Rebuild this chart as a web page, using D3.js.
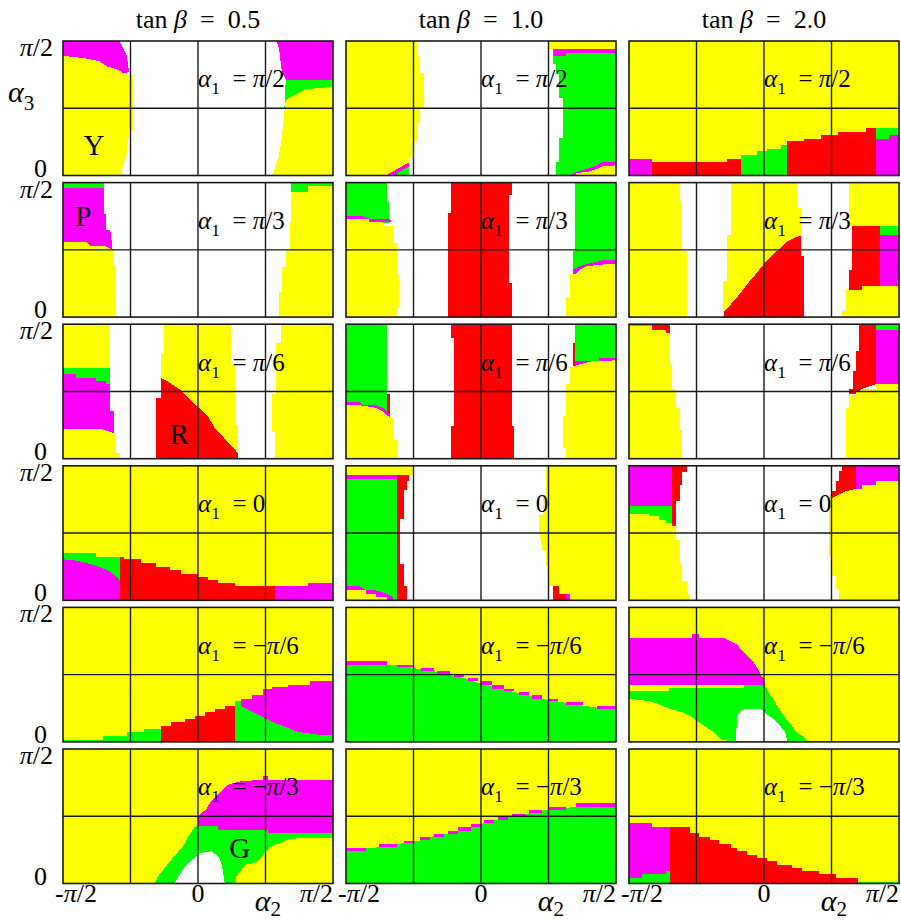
<!DOCTYPE html>
<html>
<head>
<meta charset="utf-8">
<script src="https://cdnjs.cloudflare.com/ajax/libs/d3/7.8.5/d3.min.js"></script>
<style>
  body { margin: 0; background: #fff; }
  svg text { font-family: "Liberation Serif", "DejaVu Serif", serif; fill: #000; }
</style>
</head>
<body>
<svg id="chart" width="901" height="921"></svg>
<script>
// colour codes used by the region lists
const COLORS = { Y: "#ffff00", W: "#ffffff", G: "#00ff00", M: "#ff00ff", R: "#ff0000" };

// column / row labels
const tanBetaLabels = ["0.5", "1.0", "2.0"];
const alpha1Labels  = ["π/2", "π/3", "π/6", "0", "−π/6", "−π/3"];
const xTickVals = [-1, 0, 1];          // α2 in units of π/2
const xTickText = ["-π/2", "0", "π/2"];
const gridU = [-0.5, 0, 0.5];
const gridV = [0.5];                   // α3 in units of π/2

// background colour of every panel, rows = α1, cols = tanβ
const panelBg = [
  ["W", "W", "Y"],
  ["W", "W", "Y"],
  ["W", "W", "W"],
  ["Y", "W", "W"],
  ["Y", "Y", "Y"],
  ["Y", "Y", "Y"]
];

// regions: [colour, polygon of [α2, α3]] or [colour, [u0, u1, v0, v1]] strips
// ---- α1 = π/2
const t05_r1 = [
  ["Y", [[-1,0],[-1,0.89],[-0.83,0.87],[-0.73,0.85],[-0.67,0.81],[-0.6,0.79],[-0.55,0.76],[-0.48,0.74],[-0.48,0.33],[-0.51,0.33],[-0.53,0.15],[-0.56,0.06],[-0.56,0]]],
  ["M", [[-1,1],[-0.58,1],[-0.56,0.96],[-0.53,0.9],[-0.51,0.77],[-0.55,0.76],[-0.6,0.79],[-0.67,0.81],[-0.73,0.85],[-0.83,0.87],[-1,0.89]]],
  ["G", [[0.64,0.5],[0.65,0.71],[1,0.71],[1,0.5]]],
  ["Y", [[0.55,0],[0.57,0.055],[0.6,0.15],[0.62,0.28],[0.64,0.47],[0.65,0.56],[0.68,0.58],[0.72,0.6],[0.79,0.64],[1,0.66],[1,0]]],
  ["M", [[0.58,1],[1,1],[1,0.71],[0.65,0.71],[0.62,0.78],[0.6,0.95]]]
];
const t10_r1 = [
  ["Y", [[-1,0],[-1,1],[-0.474,1],[-0.474,0.888],[-0.449,0.888],[-0.449,0.764],[-0.425,0.764],[-0.425,0.502],[-0.449,0.502],[-0.449,0.39],[-0.474,0.39],[-0.474,0.254],[-0.5,0.254],[-0.5,0.129],[-0.531,0.129],[-0.531,0]]],
  ["M", [[-0.704,0],[-0.531,0.1],[-0.531,0.07],[-0.65,0]]],
  ["G", [[-0.65,0],[-0.531,0.07],[-0.531,0]]],
  ["Y", [[0.499,1],[1,1],[1,0.938],[0.499,0.938]]],
  ["G", [[0.531,0.913],[1,0.913],[1,0],[0.556,0],[0.556,0.104],[0.58,0.104],[0.58,0.279],[0.605,0.279],[0.605,0.577],[0.58,0.577],[0.58,0.751],[0.556,0.751],[0.556,0.826],[0.531,0.826]]],
  ["M", [[0.531,0.938],[1,0.938],[1,0.913],[0.63,0.913],[0.63,0.888],[0.531,0.888]]],
  ["M", [[0.654,0],[0.704,0.025],[0.785,0.05],[0.859,0.075],[0.901,0.1],[1,0.1],[1,0]]],
  ["Y", [[0.704,0],[0.704,0.02],[0.785,0.025],[0.859,0.05],[0.901,0.07],[1,0.075],[1,0]]]
];
const t20_r1 = [
  ["M", [[-1,0],[-1,0.124],[-0.827,0.124],[-0.827,0]]],
  ["R", [[-0.827,0],[-0.827,0.104],[-0.277,0.104],[-0.277,0.124],[-0.173,0.124],[-0.173,0]]],
  ["G", [[-0.173,0],[-0.173,0.149],[-0.049,0.149],[-0.049,0.179],[0.025,0.179],[0.025,0.199],[0.123,0.199],[0.123,0.229],[0.173,0.229],[0.173,0]]],
  ["R", [[0.173,0],[0.173,0.254],[0.296,0.254],[0.296,0.274],[0.42,0.274],[0.42,0.303],[0.548,0.303],[0.548,0.323],[0.753,0.323],[0.753,0.353],[0.827,0.353],[0.827,0]]],
  ["G", [[0.827,0.274],[0.827,0.353],[1,0.353],[1,0.274]]],
  ["M", [[0.827,0],[0.827,0.274],[0.926,0.274],[0.926,0.303],[1,0.303],[1,0]]]
];
// ---- α1 = π/3
const t05_r2 = [
  ["G", [[-1,1],[-0.7,1],[-0.7,0.95],[-1,0.95]]],
  ["M", [[-1,0.96],[-0.7,0.96],[-0.7,0.77],[-0.68,0.77],[-0.68,0.65],[-0.65,0.65],[-0.63,0.48],[-1,0.48]]],
  ["Y", [[-1,0],[-1,0.56],[-0.83,0.56],[-0.8,0.53],[-0.69,0.53],[-0.63,0.5],[-0.63,0.39],[-0.605,0.39],[-0.605,0]]],
  ["Y", [[0.6,0],[0.6,0.19],[0.62,0.19],[0.62,0.37],[0.65,0.37],[0.65,0.49],[0.68,0.49],[0.68,0.71],[0.69,0.71],[0.69,1],[1,1],[1,0]]],
  ["G", [[0.69,1],[1,1],[1,0.978],[0.815,0.978],[0.815,0.93],[0.69,0.93]]]
];
const t10_r2 = [
  ["G", [[-1,1],[-0.696,1],[-0.696,0.859],[-0.679,0.859],[-0.679,0.7],[-1,0.7]]],
  ["M", [[-1,0.748],[-0.877,0.748],[-0.827,0.731],[-0.679,0.731],[-0.66,0.706],[-1,0.706]]],
  ["Y", [[-1,0],[-1,0.731],[-0.827,0.731],[-0.827,0.706],[-0.728,0.706],[-0.728,0.681],[-0.654,0.681],[-0.654,0.551],[-0.622,0.551],[-0.622,0.316],[-0.605,0.316],[-0.605,0.069],[-0.622,0.069],[-0.622,0]]],
  ["R", [[-0.222,1],[0.227,1],[0.227,0.909],[0.205,0.909],[0.205,0.254],[0.227,0.254],[0.227,0],[-0.247,0],[-0.247,0.773],[-0.222,0.773]]],
  ["G", [[0.699,1],[1,1],[1,0.4],[0.679,0.35],[0.679,0.489],[0.699,0.489]]],
  ["M", [[0.679,0.3],[0.679,0.353],[0.728,0.378],[0.785,0.395],[0.877,0.415],[0.901,0.427],[1,0.427],[1,0.3]]],
  ["Y", [[0.63,0],[0.63,0.143],[0.659,0.143],[0.659,0.321],[0.704,0.321],[0.728,0.353],[0.785,0.378],[0.877,0.39],[1,0.395],[1,0]]]
];
const t20_r2 = [
  ["W", [[-0.622,1],[-0.247,1],[-0.247,0.612],[-0.277,0.612],[-0.277,0.267],[-0.301,0.267],[-0.301,0],[-0.573,0],[-0.573,0.489],[-0.605,0.489],[-0.605,0.859],[-0.622,0.859]]],
  ["W", [[0.247,1],[0.63,1],[0.63,0.674],[0.654,0.674],[0.654,0.353],[0.63,0.353],[0.63,0.205],[0.605,0.205],[0.605,0.044],[0.58,0.044],[0.58,0],[0.296,0],[0.296,0.415],[0.284,0.415],[0.284,0.612],[0.272,0.612],[0.272,0.81],[0.247,0.81]]],
  ["R", [[-0.301,0],[-0.296,0.044],[-0.247,0.094],[-0.173,0.18],[-0.123,0.247],[-0.074,0.304],[-0.025,0.365],[0.025,0.427],[0.079,0.477],[0.123,0.514],[0.173,0.563],[0.222,0.588],[0.272,0.605],[0.272,0.452],[0.296,0.452],[0.296,0]]],
  ["R", [[0.654,0.674],[0.859,0.674],[0.859,0.23],[0.728,0.23],[0.728,0.205],[0.63,0.205],[0.63,0.353],[0.654,0.353]]],
  ["G", [[0.859,0.674],[1,0.674],[1,0.612],[0.859,0.612]]],
  ["M", [[0.859,0.612],[1,0.612],[1,0.23],[0.859,0.23]]]
];
// ---- α1 = π/6
const t05_r3 = [
  ["Y", [[-1,1],[-0.654,1],[-0.654,0.677],[-1,0.677]]],
  ["G", [[-1,0.677],[-0.654,0.677],[-0.654,0.55],[-1,0.55]]],
  ["M", [[-1,0.627],[-0.901,0.627],[-0.901,0.602],[-0.753,0.602],[-0.753,0.577],[-0.679,0.577],[-0.679,0.552],[-0.654,0.552],[-0.654,0.353],[-0.625,0.353],[-0.625,0.192],[-1,0.192]]],
  ["Y", [[-1,0],[-1,0.224],[-0.73,0.224],[-0.625,0.192],[-0.605,0.192],[-0.605,0.042],[-0.58,0.042],[-0.58,0]]],
  ["Y", [[-0.252,1],[0.247,1],[0.247,0.7],[0.272,0.7],[0.272,0.48],[0.284,0.48],[0.284,0.25],[0.296,0.25],[0.296,0],[-0.309,0],[-0.309,0.453],[-0.277,0.453],[-0.277,0.776],[-0.252,0.776]]],
  ["R", [[-0.309,0],[-0.309,0.453],[-0.277,0.453],[-0.277,0.602],[-0.227,0.577],[-0.136,0.515],[-0.074,0.453],[-0.012,0.39],[0.025,0.366],[0.074,0.316],[0.123,0.229],[0.173,0.179],[0.222,0.117],[0.272,0.067],[0.296,0.042],[0.296,0]]],
  ["Y", [[0.617,1],[1,1],[1,0],[0.573,0],[0.573,0.2],[0.548,0.2],[0.548,0.48],[0.58,0.48],[0.58,0.863],[0.617,0.863]]]
];
const t10_r3 = [
  ["G", [[-1,1],[-0.696,1],[-0.696,0.35],[-1,0.35]]],
  ["R", [[-0.696,0.478],[-0.674,0.478],[-0.674,0.303],[-0.654,0.303],[-0.654,0.28],[-0.696,0.28]]],
  ["M", [[-1,0.423],[-0.901,0.423],[-0.877,0.398],[-0.778,0.398],[-0.728,0.378],[-0.696,0.353],[-0.674,0.328],[-0.674,0.3],[-1,0.3]]],
  ["Y", [[-1,0],[-1,0.398],[-0.901,0.398],[-0.778,0.378],[-0.728,0.353],[-0.696,0.32],[-0.654,0.303],[-0.654,0.142],[-0.622,0.142],[-0.622,0]]],
  ["R", [[-0.222,1],[0.227,1],[0.227,0.241],[0.247,0.241],[0.247,0],[-0.222,0],[-0.222,0.241],[-0.202,0.241],[-0.202,0.9],[-0.222,0.9]]],
  ["G", [[0.699,1],[1,1],[1,0.7],[0.699,0.7]]],
  ["R", [[0.679,0.863],[0.699,0.863],[0.699,0.68],[0.679,0.68]]],
  ["M", [[0.699,0.726],[0.877,0.726],[0.877,0.751],[1,0.751],[1,0.68],[0.699,0.68]]],
  ["Y", [[0.63,0],[0.63,0.08],[0.605,0.08],[0.605,0.316],[0.63,0.316],[0.63,0.552],[0.659,0.552],[0.659,0.677],[0.728,0.701],[0.827,0.726],[1,0.731],[1,0]]]
];
const t20_r3 = [
  ["Y", [[-1,0],[-1,0.983],[-0.827,0.983],[-0.827,0.955],[-0.728,0.955],[-0.728,0.938],[-0.696,0.938],[-0.696,0.701],[-0.679,0.701],[-0.679,0.515],[-0.654,0.515],[-0.654,0.378],[-0.622,0.378],[-0.622,0.216],[-0.605,0.216],[-0.605,0]]],
  ["G", [[-1,1],[-0.827,1],[-0.827,0.983],[-1,0.983]]],
  ["R", [[-0.827,1],[-0.696,1],[-0.696,0.938],[-0.728,0.938],[-0.728,0.955],[-0.827,0.955]]],
  ["R", [[0.704,1],[0.827,1],[0.827,0.552],[0.728,0.52],[0.679,0.478],[0.63,0.478],[0.63,0.515],[0.659,0.515],[0.659,0.652],[0.679,0.652],[0.679,0.801],[0.704,0.801]]],
  ["G", [[0.827,1],[1,1],[1,0.955],[0.827,0.955]]],
  ["M", [[0.827,0.955],[1,0.955],[1,0.552],[0.827,0.552]]],
  ["Y", [[0.605,0],[0.605,0.378],[0.63,0.378],[0.63,0.47],[0.679,0.47],[0.679,0.502],[0.728,0.502],[0.728,0.52],[0.827,0.52],[0.827,0.552],[1,0.552],[1,0]]]
];
// ---- α1 = 0
const t05_r4 = [
  ["G", [[-1,0],[-1,0.353],[-0.753,0.353],[-0.753,0.323],[-0.58,0.323],[-0.58,0]]],
  ["M", [[-1,0],[-1,0.304],[-0.926,0.3],[-0.8,0.27],[-0.73,0.247],[-0.667,0.222],[-0.62,0.19],[-0.593,0.168],[-0.58,0.143],[-0.58,0]]],
  ["R", [[-0.58,0],[-0.58,0.323],[-0.548,0.323],[-0.548,0.304],[-0.425,0.304],[-0.425,0.274],[-0.309,0.274],[-0.309,0.249],[-0.21,0.249],[-0.21,0.225],[-0.128,0.225],[-0.128,0.198],[0,0.198],[0,0.175],[0.074,0.175],[0.074,0.15],[0.148,0.15],[0.148,0.126],[0.272,0.126],[0.272,0.104],[0.568,0.104],[0.568,0]]],
  ["M", [[0.568,0],[0.568,0.104],[0.815,0.104],[0.815,0.126],[1,0.126],[1,0]]]
];
const t10_r4 = [
  ["Y", [[-1,1],[-0.506,1],[-0.506,0.933],[-1,0.933]]],
  ["G", [[-1,0.904],[-0.622,0.904],[-0.622,0],[-1,0]]],
  ["M", [[-1,0.933],[-0.622,0.933],[-0.622,0.904],[-1,0.904]]],
  ["R", [[-0.622,0.933],[-0.531,0.933],[-0.531,0.884],[-0.548,0.884],[-0.548,0.822],[-0.573,0.822],[-0.573,0.607],[-0.598,0.607],[-0.598,0.267],[-0.573,0.267],[-0.573,0.106],[-0.548,0.106],[-0.548,0],[-0.622,0]]],
  ["M", [[-1,0.106],[-0.901,0.106],[-0.852,0.074],[-0.778,0.074],[-0.696,0.049],[-0.654,0.025],[-0.654,0],[-1,0]]],
  ["Y", [[-1,0],[-1,0.074],[-0.852,0.074],[-0.852,0.049],[-0.778,0.049],[-0.778,0.025],[-0.696,0.025],[-0.696,0]]],
  ["Y", [[0.481,1],[1,1],[1,0],[0.531,0],[0.531,0.106],[0.499,0.106],[0.499,0.254],[0.481,0.254],[0.481,0.365],[0.457,0.365],[0.432,0.5],[0.432,0.637],[0.457,0.637],[0.457,0.785],[0.481,0.785]]],
  ["R", [[0.531,0],[0.531,0.106],[0.58,0.106],[0.58,0.05],[0.63,0.05],[0.63,0]]],
  ["M", [[0.63,0],[0.63,0.05],[0.662,0.05],[0.662,0]]]
];
const t20_r4 = [
  ["M", [[-1,1],[-0.679,1],[-0.679,0.699],[-1,0.699]]],
  ["G", [[-1,0.699],[-0.679,0.699],[-0.679,0.575],[-1,0.575]]],
  ["Y", [[-1,0],[-1,0.642],[-0.852,0.642],[-0.852,0.625],[-0.778,0.625],[-0.778,0.6],[-0.728,0.6],[-0.728,0.575],[-0.679,0.575],[-0.654,0.551],[-0.654,0.452],[-0.622,0.452],[-0.622,0.267],[-0.605,0.267],[-0.605,0.143],[-0.573,0.143],[-0.573,0.044],[-0.548,0.044],[-0.548,0]]],
  ["R", [[-0.679,1],[-0.573,1],[-0.573,0.953],[-0.605,0.953],[-0.605,0.859],[-0.622,0.859],[-0.622,0.736],[-0.654,0.736],[-0.654,0.551],[-0.679,0.551]]],
  ["Y", [[0.556,0],[0.556,0.081],[0.531,0.081],[0.531,0.18],[0.506,0.18],[0.506,0.328],[0.481,0.328],[0.481,0.785],[0.506,0.76],[0.556,0.785],[0.605,0.81],[0.667,0.83],[0.728,0.859],[0.827,0.884],[1,0.884],[1,0]]],
  ["R", [[0.58,1],[0.679,1],[0.679,0.83],[0.605,0.81],[0.556,0.785],[0.506,0.76],[0.506,0.81],[0.531,0.81],[0.531,0.884],[0.556,0.884],[0.556,0.958],[0.58,0.958]]],
  ["M", [[0.679,1],[1,1],[1,0.884],[0.827,0.884],[0.827,0.859],[0.728,0.859],[0.728,0.83],[0.679,0.83]]]
];
// ---- α1 = −π/6
const t05_r5 = [
  ["G", [[-1,0],[-1,0.017],[-0.704,0.017],[-0.704,0.047],[-0.523,0.047],[-0.523,0.072],[-0.4,0.072],[-0.4,0.099],[-0.277,0.099],[-0.277,0]]],
  ["R", [[-0.277,0],[-0.277,0.121],[-0.202,0.121],[-0.202,0.146],[-0.099,0.146],[-0.099,0.173],[-0.025,0.173],[-0.025,0.196],[0.049,0.196],[0.049,0.22],[0.123,0.22],[0.123,0.245],[0.198,0.245],[0.198,0.27],[0.272,0.27],[0.272,0]]],
  ["G", [[0.272,0],[0.272,0.302],[1,0.302],[1,0]]],
  ["M", [[0.321,0.319],[0.4,0.319],[0.4,0.351],[0.481,0.351],[0.481,0.394],[0.548,0.394],[0.548,0.408],[0.667,0.408],[0.667,0.426],[0.827,0.426],[0.827,0.45],[1,0.45],[1,0.054],[0.889,0.054],[0.741,0.074],[0.667,0.104],[0.568,0.141],[0.494,0.178],[0.42,0.215],[0.321,0.265]]]
];
const t10_r5 = [
  ["G", [[-1,0],[-1,0.574],[-0.622,0.574],[-0.506,0.55],[-0.351,0.525],[-0.227,0.495],[-0.123,0.475],[-0.025,0.44],[0.079,0.415],[0.173,0.39],[0.247,0.37],[0.358,0.345],[0.449,0.32],[0.573,0.3],[0.753,0.27],[0.859,0.255],[1,0.245],[1,0]]],
  ["M", [-1,-0.696,0.574,0.604]], ["M", [-0.622,-0.506,0.554,0.574]], ["M", [-0.444,-0.351,0.525,0.55]],
  ["M", [-0.326,-0.227,0.505,0.525]], ["M", [-0.202,-0.123,0.48,0.495]], ["M", [-0.099,-0.025,0.45,0.475]],
  ["M", [0,0.079,0.426,0.45]], ["M", [0.079,0.173,0.396,0.421]], ["M", [0.173,0.247,0.376,0.396]],
  ["M", [0.284,0.358,0.351,0.371]], ["M", [0.375,0.449,0.322,0.347]], ["M", [0.499,0.573,0.302,0.322]],
  ["M", [0.63,0.753,0.272,0.297]], ["M", [0.859,1,0.248,0.27]]
];
const t20_r5 = [
  ["M", [[-1,0.376],[-1,0.772],[-0.531,0.772],[-0.531,0.804],[-0.481,0.804],[-0.481,0.772],[-0.296,0.772],[-0.247,0.748],[-0.198,0.723],[-0.173,0.691],[-0.148,0.661],[-0.111,0.624],[-0.074,0.587],[-0.049,0.55],[-0.025,0.5],[0,0.475],[0,0.426],[-1,0.426]]],
  ["G", [[-1,0.322],[-1,0.376],[-0.704,0.376],[-0.704,0.401],[-0.148,0.401],[-0.148,0.426],[0,0.426],[0.025,0.389],[0.049,0.339],[0.074,0.314],[0.099,0.265],[0.123,0.228],[0.148,0.191],[0.173,0.153],[0.198,0.129],[0.222,0.092],[0.247,0.067],[0.284,0.042],[0.309,0.017],[0.333,0],[-0.21,0],[-0.321,0.017],[-0.346,0.042],[-0.383,0.079],[-0.42,0.104],[-0.457,0.129],[-0.494,0.153],[-0.543,0.191],[-0.605,0.22],[-0.696,0.245],[-0.753,0.27],[-0.84,0.302]]],
  ["W", [[-0.21,0],[-0.198,0.191],[-0.173,0.228],[-0.136,0.245],[-0.025,0.245],[0,0.228],[0.025,0.203],[0.074,0.166],[0.123,0.116],[0.16,0.067],[0.173,0]]]
];
// ---- α1 = −π/3
const t05_r6 = [
  ["M", [[0,0.495],[0.025,0.525],[0.062,0.55],[0.079,0.587],[0.111,0.624],[0.148,0.661],[0.185,0.698],[0.222,0.735],[0.321,0.76],[0.481,0.772],[0.481,0.802],[0.519,0.802],[0.519,0.772],[1,0.772],[1,0.376],[0,0.376]]],
  ["G", [[-0.321,0],[-0.296,0.054],[-0.247,0.116],[-0.185,0.191],[-0.111,0.277],[-0.062,0.364],[-0.025,0.421],[0,0.426],[0.148,0.426],[0.148,0.396],[0.519,0.396],[0.519,0.376],[1,0.376],[1,0.339],[0.765,0.339],[0.667,0.327],[0.617,0.302],[0.543,0.277],[0.494,0.228],[0.457,0.178],[0.42,0.153],[0.358,0.141],[0.321,0.104],[0.284,0.054],[0.284,0]]],
  ["W", [[-0.173,0],[-0.123,0.092],[-0.074,0.153],[-0.025,0.191],[0.025,0.228],[0.099,0.24],[0.148,0.203],[0.173,0.153],[0.185,0.092],[0.198,0]]]
];
const t10_r6 = [
  ["G", [[-1,0],[-1,0.245],[-0.753,0.27],[-0.573,0.3],[-0.449,0.32],[-0.351,0.35],[-0.247,0.37],[-0.173,0.394],[-0.074,0.42],[0.025,0.45],[0.123,0.475],[0.227,0.5],[0.358,0.522],[0.499,0.55],[0.704,0.569],[1,0.569],[1,0]]],
  ["M", [-1,-0.852,0.245,0.265]], ["M", [-0.753,-0.622,0.27,0.295]], ["M", [-0.573,-0.499,0.3,0.319]],
  ["M", [-0.449,-0.375,0.32,0.347]], ["M", [-0.351,-0.277,0.349,0.371]], ["M", [-0.247,-0.173,0.371,0.394]],
  ["M", [-0.173,-0.074,0.394,0.421]], ["M", [-0.074,0,0.421,0.446]], ["M", [0.025,0.099,0.45,0.475]],
  ["M", [0.123,0.202,0.475,0.495]], ["M", [0.227,0.326,0.5,0.517]], ["M", [0.358,0.449,0.522,0.55]],
  ["M", [0.499,0.63,0.55,0.569]], ["M", [0.704,1,0.569,0.599]]
];
const t20_r6 = [
  ["M", [[-1,0],[-1,0.45],[-0.827,0.45],[-0.827,0.421],[-0.696,0.421],[-0.696,0]]],
  ["G", [[-1,0],[-1,0.042],[-0.901,0.042],[-0.901,0.067],[-0.728,0.067],[-0.728,0.092],[-0.696,0.092],[-0.696,0]]],
  ["R", [[-0.696,0],[-0.696,0.421],[-0.548,0.421],[-0.548,0.376],[-0.481,0.376],[-0.481,0.347],[-0.4,0.347],[-0.4,0.322],[-0.333,0.322],[-0.333,0.29],[-0.247,0.29],[-0.247,0.265],[-0.198,0.265],[-0.198,0.24],[-0.123,0.24],[-0.123,0.215],[-0.049,0.215],[-0.049,0.191],[0.025,0.191],[0.025,0.166],[0.099,0.166],[0.099,0.141],[0.21,0.141],[0.21,0.116],[0.284,0.116],[0.284,0.092],[0.407,0.092],[0.407,0.067],[0.531,0.067],[0.531,0.042],[0.696,0.042],[0.696,0]]],
  ["G", [[0.696,0],[0.696,0.01],[1,0.01],[1,0]]]
];

const regionGrid = [
  [t05_r1, t10_r1, t20_r1],
  [t05_r2, t10_r2, t20_r2],
  [t05_r3, t10_r3, t20_r3],
  [t05_r4, t10_r4, t20_r4],
  [t05_r5, t10_r5, t20_r5],
  [t05_r6, t10_r6, t20_r6]
];

// region markers: [text, row, col, α2, α3]
const markers = [["Y", 0, 0, -0.77, 0.15], ["P", 1, 0, -0.85, 0.674], ["R", 2, 0, -0.14, 0.11], ["G", 5, 0, 0.31, 0.19]];

const svg = d3.select("#chart");
const W = 270, H = 134.5;
const left0 = 63, colStep = 283, top0 = 41, rowStep = 141.6;
const SP = "\u00a0", EN = "\u2002";

function addMath(g, x, y, parts, size, anchor, subShift) {
  const t = g.append("text").attr("x", x).attr("y", y)
    .attr("font-size", size).attr("text-anchor", anchor || "start");
  const sh = size * (subShift || 0.28);
  let shifted = false;
  parts.forEach(([s, k]) => {
    const ts = t.append("tspan").text(s);
    if (k === "i") ts.attr("font-style", "italic");
    if (k === "s") { ts.attr("font-size", size * 0.7).attr("dy", sh); shifted = true; }
    else if (shifted) { ts.attr("dy", -sh); shifted = false; }
  });
  return t;
}
function piParts(str) {
  return str.split("").map(ch => [ch, ch === "π" ? "i" : "r"]);
}

for (let r = 0; r < 6; r++) {
  for (let c = 0; c < 3; c++) {
    const left = left0 + c * colStep, top = top0 + r * rowStep;
    const x = d3.scaleLinear().domain([-1, 1]).range([left, left + W]);
    const y = d3.scaleLinear().domain([0, 1]).range([top + H, top]);
    const line = d3.line().x(d => x(d[0])).y(d => y(d[1]));
    const g = svg.append("g");

    g.append("rect").attr("x", x(-1)).attr("y", y(1))
      .attr("width", x(1) - x(-1)).attr("height", y(0) - y(1))
      .attr("fill", COLORS[panelBg[r][c]]);

    regionGrid[r][c].forEach(([k, pts]) => {
      let poly = pts;
      if (typeof pts[0] === "number") {
        const [u0, u1, v0, v1] = pts;
        poly = [[u0, v0], [u1, v0], [u1, v1], [u0, v1]];
      }
      g.append("path").attr("d", line(poly) + "Z")
        .attr("fill", COLORS[k]).attr("shape-rendering", "crispEdges");
    });

    gridU.forEach(u => g.append("line")
      .attr("x1", x(u)).attr("x2", x(u)).attr("y1", y(0)).attr("y2", y(1))
      .attr("stroke", "#1a1a1a").attr("stroke-width", 1.4));
    gridV.forEach(v => g.append("line")
      .attr("x1", x(-1)).attr("x2", x(1)).attr("y1", y(v)).attr("y2", y(v))
      .attr("stroke", "#1a1a1a").attr("stroke-width", 1.4));
    g.append("rect").attr("x", x(-1)).attr("y", y(1))
      .attr("width", x(1) - x(-1)).attr("height", y(0) - y(1))
      .attr("fill", "none").attr("stroke", "#1a1a1a").attr("stroke-width", 1.6);

    // α1 label
    addMath(g, x(0), y(0.655),
      [["α", "i"], ["1", "s"], [EN + "=" + SP, "r"]].concat(piParts(alpha1Labels[r])), 25);

    if (c === 0) {
      addMath(g, left - 10, y(1) + 15, piParts("π/2"), 26, "end");
      addMath(g, left - 16, y(0) + 1, [["0", "r"]], 26, "end");
    }
    if (r === 0) {
      addMath(g, left + W / 2, 28,
        [["tan" + SP, "r"], ["β", "i"], [EN + "=" + EN + tanBetaLabels[c], "r"]], 26, "middle");
    }
    if (r === 5) {
      xTickVals.forEach((v, i) => {
        const anchor = i === 0 ? "start" : i === 1 ? "middle" : "end";
        const px = i === 0 ? x(v) - 8 : x(v);
        addMath(g, px, 902, piParts(xTickText[i]), 26, anchor);
      });
      addMath(g, x(0.42), 911, [["α", "i"], ["2", "s"]], 30, "start", 0.16);
    }
    markers.filter(m => m[1] === r && m[2] === c).forEach(m => {
      g.append("text").attr("x", x(m[3])).attr("y", y(m[4]))
        .attr("font-size", 29).attr("text-anchor", "middle").text(m[0]);
    });
  }
}
addMath(svg, 8, 102, [["α", "i"], ["3", "s"]], 30);
</script>
</body>
</html>
